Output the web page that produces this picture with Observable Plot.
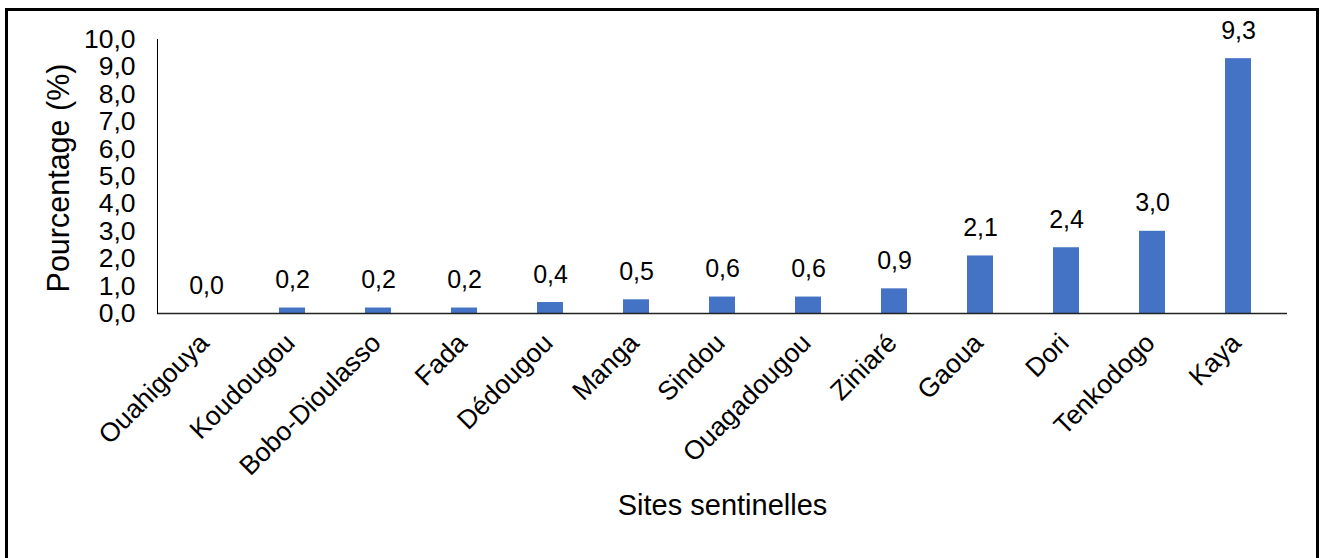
<!DOCTYPE html>
<html>
<head>
<meta charset="utf-8">
<script src="https://cdn.jsdelivr.net/npm/d3@7"></script>
<script src="https://cdn.jsdelivr.net/npm/@observablehq/plot@0.6"></script>
<style>
  html, body { margin: 0; padding: 0; background: #fff; }
  #wrap { position: relative; width: 1323px; height: 558px; overflow: hidden; }
  #border { position: absolute; left: 5px; top: 8px; width: 1314px; height: 560px;
            border: 3px solid #000; border-bottom: none; box-sizing: border-box; pointer-events: none; }
  #chart { position: absolute; left: 0; top: 0; }
</style>
</head>
<body>
<div id="wrap">
  <div id="chart"></div>
  <div id="border"></div>
</div>
<script>
// Sentinel sites, ordered by percentage
const sites = ["Ouahigouya", "Koudougou", "Bobo-Dioulasso", "Fada", "Dédougou", "Manga",
               "Sindou", "Ouagadougou", "Ziniaré", "Gaoua", "Dori", "Tenkodogo", "Kaya"];
const values = [0.0, 0.2, 0.2, 0.2, 0.4, 0.5, 0.6, 0.6, 0.9, 2.1, 2.4, 3.0, 9.3];
const yTicks = [0, 1, 2, 3, 4, 5, 6, 7, 8, 9, 10];

const data = sites.map((site, i) => ({site, value: values[i]}));
const fmt = v => v.toFixed(1).replace(".", ",");

const chart = Plot.plot({
  width: 1323,
  height: 558,
  marginLeft: 157,
  marginRight: 36,
  marginTop: 39,
  marginBottom: 245,
  style: {fontFamily: "'Liberation Sans', Arial, sans-serif", fontSize: "26px", color: "#000", background: "transparent"},
  x: {domain: sites, paddingInner: 0.7, paddingOuter: 0.35},
  y: {domain: [0, 10]},
  marks: [
    Plot.axisY({
      ticks: yTicks, tickFormat: fmt, tickSize: 0, tickPadding: 22,
      fontSize: 26.5, label: null
    }),
    Plot.axisX({
      tickSize: 0, tickRotate: -45, tickPadding: 25, dx: -2, fontSize: 26.5, label: null
    }),
    Plot.barY(data, {x: "site", y: "value", fill: "#4472C4"}),
    Plot.ruleY([0], {stroke: "#222", strokeWidth: 1.5}),
    Plot.frame({anchor: "left", stroke: "#000", strokeWidth: 1}),
    Plot.text(data, {x: "site", y: "value", text: d => fmt(d.value), dy: -20,
                     lineAnchor: "bottom", fontSize: 25, fill: "#000"}),
    // axis titles
    Plot.text(["Pourcentage (%)"], {frameAnchor: "left", dx: -98, dy: 1.5, rotate: -90,
                                     textAnchor: "middle", fontSize: 30.5, fill: "#000"}),
    Plot.text(["Sites sentinelles"], {frameAnchor: "bottom", dy: 201,
                                       fontSize: 29, fill: "#000"})
  ]
});
document.getElementById("chart").appendChild(chart);
</script>
</body>
</html>
